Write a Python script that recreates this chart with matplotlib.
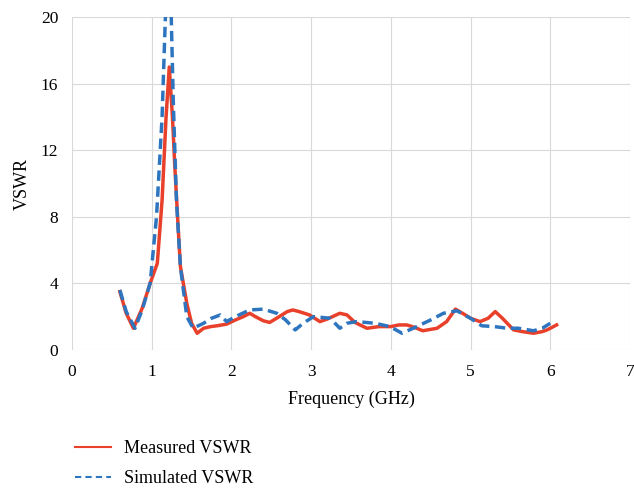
import matplotlib.pyplot as plt

plt.rcParams['font.family'] = ['Liberation Serif', 'DejaVu Serif']

# measured VSWR
meas_f = [0.6, 0.68, 0.77, 0.88, 0.98, 1.07, 1.13, 1.18, 1.22, 1.26, 1.29, 1.33, 1.36,
          1.44, 1.50, 1.57, 1.65, 1.74, 1.82, 1.94, 2.05, 2.15, 2.23, 2.3, 2.4, 2.48,
          2.6, 2.7, 2.77, 2.85, 2.98, 3.11, 3.2, 3.36, 3.45, 3.55, 3.70, 3.85, 4.0,
          4.1, 4.2, 4.3, 4.4, 4.58, 4.7, 4.81, 4.9, 5.0, 5.12, 5.22, 5.31, 5.4, 5.54,
          5.65, 5.79, 5.9, 5.96, 6.08]
meas_v = [3.5, 2.2, 1.3, 2.5, 4.0, 5.2, 9.0, 14, 17, 14, 11, 7.5, 5,
          2.8, 1.6, 1.0, 1.3, 1.4, 1.45, 1.55, 1.8, 2.0, 2.2, 2.0, 1.75, 1.65,
          2.0, 2.3, 2.4, 2.3, 2.1, 1.7, 1.85, 2.2, 2.1, 1.65, 1.3, 1.4, 1.4,
          1.5, 1.5, 1.35, 1.15, 1.3, 1.7, 2.45, 2.2, 1.9, 1.7, 1.9, 2.3, 1.9, 1.2,
          1.1, 1.0, 1.1, 1.2, 1.5]

# simulated VSWR
sim_f = [0.6, 0.68, 0.79, 0.88, 0.98, 1.06, 1.13, 1.17, 1.2, 1.24, 1.27, 1.31, 1.36,
         1.44, 1.52, 1.65, 1.75, 1.86, 1.94, 2.05, 2.23, 2.4, 2.57, 2.68, 2.8, 2.9,
         3.03, 3.24, 3.36, 3.45, 3.57, 3.8, 3.99, 4.14, 4.28, 4.5, 4.66, 4.83, 5.0,
         5.14, 5.3, 5.46, 5.6, 5.79, 5.9, 6.0]
sim_v = [3.6, 2.3, 1.3, 2.4, 4.0, 8, 14, 19.8, 23, 21, 15, 9, 5,
         2.0, 1.3, 1.6, 1.9, 2.1, 1.7, 2.0, 2.4, 2.45, 2.2, 1.8, 1.2, 1.6,
         2.0, 1.9, 1.3, 1.6, 1.7, 1.6, 1.4, 1.0, 1.3, 1.8, 2.2, 2.35, 1.9,
         1.45, 1.4, 1.3, 1.3, 1.15, 1.3, 1.6]

fig = plt.figure(figsize=(6.34, 4.88), dpi=100)
ax = fig.add_axes([0.1136, 0.283, 0.88, 0.682])

ax.plot(meas_f, meas_v, color='#e8402a', lw=2.5)
ax.plot(sim_f, sim_v, color='#2e75c0', lw=2.5, ls=(0, (3, 1.6)))

ax.set_xlim(0, 7)
ax.set_ylim(0, 20)
ax.set_xticks(range(0, 8))
ax.set_yticks(range(0, 21, 4))
ax.grid(color='#d9d9d9', lw=0.8)
ax.set_axisbelow(True)
for s in ax.spines.values():
    s.set_visible(False)
ax.tick_params(length=0, labelsize=12.5, pad=10)
ax.set_xlabel('Frequency (GHz)', fontsize=13, labelpad=8)
ax.set_ylabel('VSWR', fontsize=13, labelpad=7)

h1, = ax.plot([], [], color='#e8402a', lw=1.5)
h2, = ax.plot([], [], color='#2e75c0', lw=1.5, ls=(0, (3, 2)))
fig.legend([h1, h2], ['Measured VSWR', 'Simulated VSWR'], loc='upper left',
           bbox_to_anchor=(0.092, 0.132), frameon=False, fontsize=13,
           handlelength=2.0, handletextpad=0.75, labelspacing=0.75)

fig.savefig('out.png')
